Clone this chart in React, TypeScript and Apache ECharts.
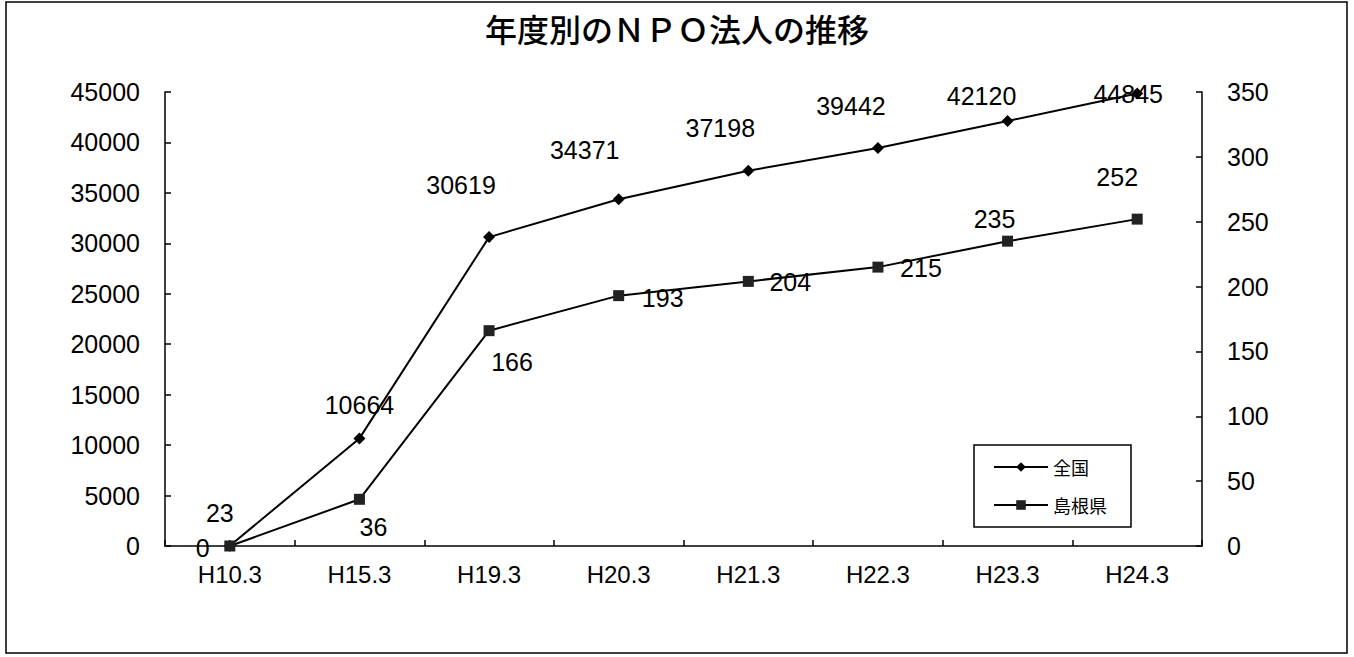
import React, { useEffect, useRef } from "react";
import * as echarts from "echarts";

const categories = ["H10.3", "H15.3", "H19.3", "H20.3", "H21.3", "H22.3", "H23.3", "H24.3"];
const zenkoku = [23, 10664, 30619, 34371, 37198, 39442, 42120, 44845];
const shimane = [0, 36, 166, 193, 204, 215, 235, 252];
const seriesNames = ["全国", "島根県"];
const title = "年度別のＮＰＯ法人の推移";

// label placement offsets (layout only)
const zenkokuLabelOffsets = [[-10, -33], [0, -33], [-28, -52], [-34, -49], [-28, -43], [-27, -42], [-26, -25], [-9, 0]];
const shimaneLabelOffsets = [[-27, 2], [14, 28], [23, 31], [44, 2], [42, 1], [43, 1], [-13, -22], [-20, -42]];

const FONT = "'Liberation Sans', Arial, 'Noto Sans CJK JP', sans-serif";

export default function App() {
  const ref = useRef<HTMLDivElement>(null);
  useEffect(() => {
    if (!ref.current) return;
    const chart = echarts.init(ref.current, null, { renderer: "svg" });
    const mk = (vals: number[], offs: number[][]) =>
      vals.map((v, i) => ({ value: v, label: { offset: offs[i] } }));
    const axisCommon = {
      axisLine: { show: true, lineStyle: { color: "#000", width: 1.5 } },
      axisTick: { show: true, inside: true, length: 6, lineStyle: { color: "#000", width: 1.5 } },
      splitLine: { show: false },
      axisLabel: { color: "#000", fontSize: 25, fontFamily: FONT, margin: 25, formatter: (v: number) => String(v) },
    };
    chart.setOption({
      animation: false,
      backgroundColor: "#fff",
      title: {
        text: title,
        left: "center",
        top: 7,
        textStyle: { fontSize: 32, fontWeight: 500, color: "#000", fontFamily: "'Noto Sans CJK JP', sans-serif" },
      },
      graphic: [
        {
          type: "rect",
          shape: { x: 6, y: 2, width: 1341, height: 651 },
          style: { fill: "none", stroke: "#000", lineWidth: 1.5 },
          silent: true,
        },
      ],
      legend: {
        data: seriesNames,
        orient: "vertical",
        left: 974,
        top: 445,
        padding: [13, 24, 13, 19],
        itemGap: 20,
        itemWidth: 54,
        itemHeight: 12,
        borderColor: "#000",
        borderWidth: 1.5,
        textStyle: { fontSize: 18, color: "#000", fontFamily: "'Noto Sans CJK JP', sans-serif" },
      },
      grid: { left: 165, right: 152, top: 92, bottom: 111 },
      xAxis: {
        type: "category",
        data: categories,
        boundaryGap: true,
        ...axisCommon,
        axisLabel: { color: "#000", fontSize: 24, fontFamily: FONT, margin: 16 },
      },
      yAxis: [
        { type: "value", min: 0, max: 45000, interval: 5000, position: "left", ...axisCommon },
        { type: "value", min: 0, max: 350, interval: 50, position: "right", ...axisCommon },
      ],
      series: [
        {
          name: seriesNames[0],
          type: "line",
          yAxisIndex: 0,
          data: mk(zenkoku, zenkokuLabelOffsets),
          symbol: "diamond",
          symbolSize: 12,
          itemStyle: { color: "#000" },
          lineStyle: { color: "#000", width: 2 },
          label: { show: true, position: "inside", color: "#000", fontSize: 25, fontFamily: FONT },
        },
        {
          name: seriesNames[1],
          type: "line",
          yAxisIndex: 1,
          data: mk(shimane, shimaneLabelOffsets),
          symbol: "rect",
          symbolSize: 11,
          itemStyle: { color: "#222" },
          lineStyle: { color: "#000", width: 2 },
          label: { show: true, position: "inside", color: "#000", fontSize: 25, fontFamily: FONT },
        },
      ],
    });
    return () => chart.dispose();
  }, []);
  return (
    <div
      ref={ref}
      style={{ position: "fixed", left: 0, top: 0, width: 1354, height: 657, background: "#fff" }}
    />
  );
}
